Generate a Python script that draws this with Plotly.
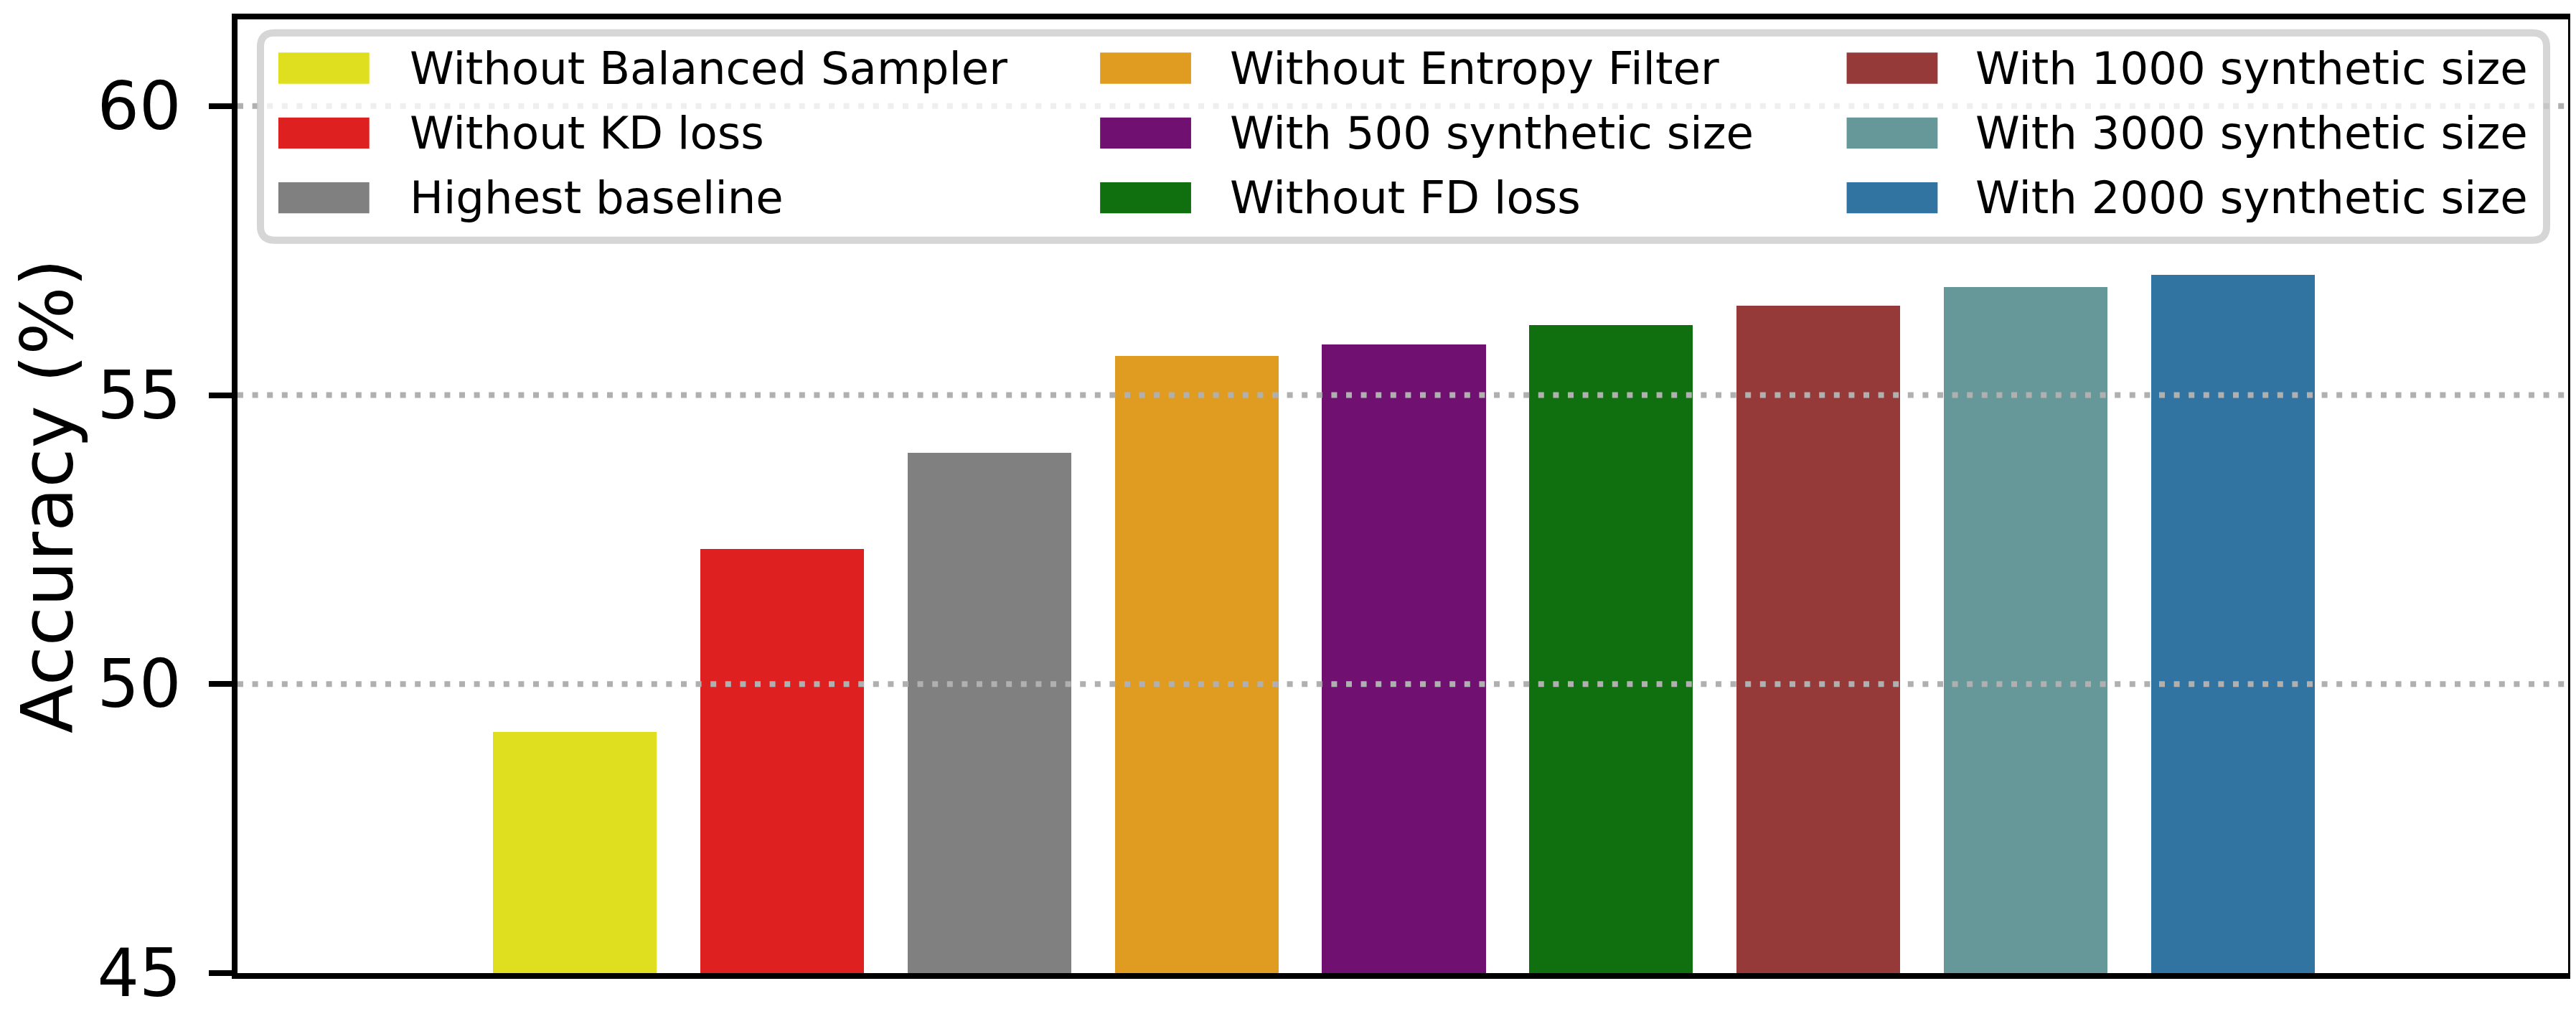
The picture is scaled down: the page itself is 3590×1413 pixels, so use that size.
import plotly.graph_objects as go

# ablation results, left to right
labels = [
    "Without Balanced Sampler",
    "Without KD loss",
    "Highest baseline",
    "Without Entropy Filter",
    "With 500 synthetic size",
    "Without FD loss",
    "With 1000 synthetic size",
    "With 3000 synthetic size",
    "With 2000 synthetic size",
]
accuracy = [49.17, 52.34, 54.0, 55.68, 55.88, 56.21, 56.55, 56.87, 57.08]
colors = [
    "#dfdf20",
    "#df2020",
    "#808080",
    "#df9c20",
    "#701070",
    "#107010",
    "#963939",
    "#679899",
    "#3274a1",
]
y_ticks = [45, 50, 55, 60]

W, H = 3590, 1413
L, R, T, B = 323, 3576, 11, 1358  # plot area in pixels
font = "DejaVu Sans"


def xp(px):
    return (px - L) / (R - L)


def yp(py):
    return (B - py) / (B - T)


fig = go.Figure()
fig.add_bar(
    x=labels,
    y=accuracy,
    marker_color=colors,
    marker_line_width=0,
    width=0.79,
    showlegend=False,
)

# dotted grid, drawn on top of the bars like the original
shapes = []
for v in y_ticks[1:]:
    shapes.append(
        dict(
            type="line",
            xref="paper",
            yref="y",
            x0=0,
            x1=1,
            y0=v,
            y1=v,
            line=dict(color="#b0b0b0", width=8, dash="8px,12.6px"),
            layer="above",
        )
    )

# legend frame (rounded, semi transparent)
lx0, lx1, ly0, ly1, rad = 355, 3546, 30, 323, 20
x0, x1, y0, y1 = xp(lx0), xp(lx1), yp(ly0), yp(ly1)
rx, ry = rad / (R - L), rad / (B - T)
path = (
    f"M{x0 + rx},{y0} L{x1 - rx},{y0} Q{x1},{y0} {x1},{y0 - ry} "
    f"L{x1},{y1 + ry} Q{x1},{y1} {x1 - rx},{y1} "
    f"L{x0 + rx},{y1} Q{x0},{y1} {x0},{y1 + ry} "
    f"L{x0},{y0 - ry} Q{x0},{y0} {x0 + rx},{y0} Z"
)
shapes.append(
    dict(
        type="path",
        xref="paper",
        yref="paper",
        path=path,
        fillcolor="white",
        line=dict(color="#cccccc", width=10),
        opacity=0.8,
        layer="above",
    )
)

# legend entries, filled column by column
col_patch = [380, 1527, 2569]
col_text = [561, 1706, 2747]
row_y = [80, 171.5, 263]
patch_w, patch_h = 127, 44
annotations = []
for i, (name, c) in enumerate(zip(labels, colors)):
    col, row = divmod(i, 3)
    cy = row_y[row]
    shapes.append(
        dict(
            type="rect",
            xref="paper",
            yref="paper",
            x0=xp(col_patch[col]),
            x1=xp(col_patch[col] + patch_w),
            y0=yp(cy - patch_h / 2),
            y1=yp(cy + patch_h / 2),
            fillcolor=c,
            line_width=0,
            layer="above",
        )
    )
    annotations.append(
        dict(
            text=name,
            xref="paper",
            yref="paper",
            x=xp(col_text[col]),
            y=yp(cy),
            xanchor="left",
            yanchor="middle",
            showarrow=False,
            font=dict(family=font, size=62.5, color="black"),
        )
    )

annotations.append(
    dict(
        text="Accuracy (%)",
        textangle=-90,
        xref="paper",
        yref="paper",
        x=xp(58),
        y=0.5,
        xanchor="center",
        yanchor="middle",
        showarrow=False,
        font=dict(family=font, size=100, color="black"),
    )
)

fig.update_layout(
    width=W,
    height=H,
    margin=dict(l=L, r=W - R, t=T, b=H - B, pad=0),
    paper_bgcolor="white",
    plot_bgcolor="white",
    font=dict(family=font, color="black"),
    shapes=shapes,
    annotations=annotations,
    bargap=0,
)
fig.update_xaxes(
    range=[-1.628, 9.618],
    showticklabels=False,
    ticks="",
    showgrid=False,
    zeroline=False,
    showline=True,
    linewidth=8,
    linecolor="black",
    mirror=True,
)
fig.update_yaxes(
    range=[45, 61.5],
    tickvals=y_ticks,
    ticks="outside",
    ticklen=32,
    tickwidth=8,
    tickcolor="black",
    tickfont=dict(family=font, size=92, color="black"),
    ticklabelstandoff=20,
    showgrid=False,
    zeroline=False,
    showline=True,
    linewidth=8,
    linecolor="black",
    mirror=True,
)

fig.write_html("out.html")
